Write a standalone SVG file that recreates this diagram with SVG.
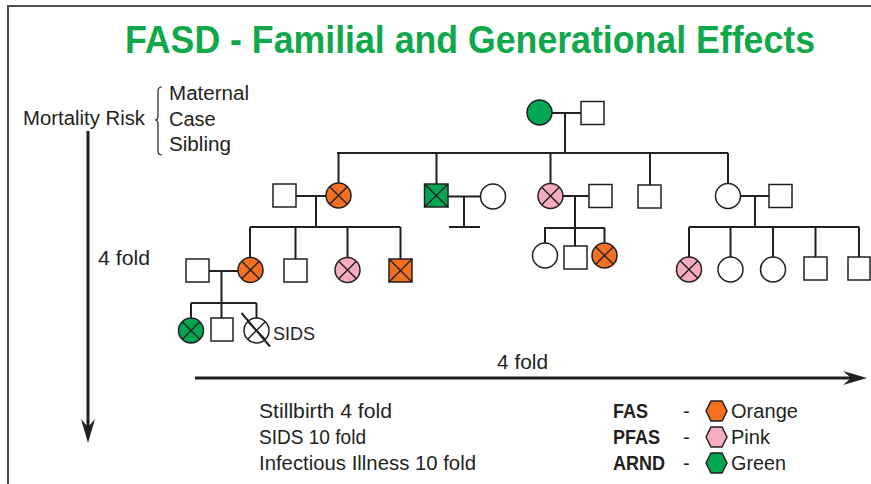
<svg xmlns="http://www.w3.org/2000/svg" width="871" height="484" viewBox="0 0 871 484">
<style>
.ln{stroke:#231f20;stroke-width:2;fill:none}
.s{stroke:#231f20;stroke-width:1.5}
.w{fill:#fff}.o{fill:#f37021}.p{fill:#f5adbf}.g{fill:#00a651}
.x{stroke:#231f20;stroke-width:1.4;fill:none}
.t{font-family:"Liberation Sans",Arial,sans-serif;font-size:20px;fill:#231f20}
.b{font-weight:bold}
</style>
<rect width="871" height="484" fill="#fff"/>
<path d="M8,484 V6 H871" fill="none" stroke="#4d4d4d" stroke-width="2"/>
<text class="t b" x="125" y="53" style="font-size:38px;fill:#0fa84b" textLength="690" lengthAdjust="spacingAndGlyphs">FASD - Familial and Generational Effects</text>

<g id="axis-labels">
<text class="t" x="23" y="125" textLength="122" lengthAdjust="spacingAndGlyphs">Mortality Risk</text>
<path d="M162,87 Q158,87 158,91 V116 Q158,120 155,120 Q158,120 158,124 V151 Q158,155 162,155" fill="none" stroke="#231f20" stroke-width="1.2"/>
<text class="t" x="169" y="100" textLength="80" lengthAdjust="spacingAndGlyphs">Maternal</text>
<text class="t" x="169" y="125.5">Case</text>
<text class="t" x="169" y="151" textLength="62" lengthAdjust="spacingAndGlyphs">Sibling</text>
<text class="t" x="98" y="265" textLength="52" lengthAdjust="spacingAndGlyphs">4 fold</text>
<text class="t" x="497" y="369" textLength="51" lengthAdjust="spacingAndGlyphs">4 fold</text>
</g>

<g id="arrows" fill="#231f20">
<line x1="88" y1="131" x2="88" y2="430" stroke="#231f20" stroke-width="3"/>
<polygon points="81,419 88,443 95,419 88,427"/>
<line x1="195" y1="378" x2="852" y2="378" stroke="#231f20" stroke-width="3"/>
<polygon points="843,371 867,378 843,385 851,378"/>
</g>

<g id="connectors" class="ln">
<path d="M552,113 H581 M565,113 V153 M337,153 H728"/>
<path d="M338.5,153 V183 M436.5,153 V184 M550.5,153 V183.5 M650,153 V185 M728,153 V183.5"/>
<path d="M296,196 H326 M316,196 V227 M250,227 H400.5 M250,227 V257.5 M295.5,227 V259 M347.5,227 V257.5 M400.5,227 V259"/>
<path d="M448,196.5 H480.5 M464,196.5 V227 M449,227 H480"/>
<path d="M563,196 H589 M575,196 V246 M544,228 H605 M545,228 V243 M604.5,228 V243"/>
<path d="M741,196 H769 M755,196 V227 M689,227 H859 M689,227 V257 M730.5,227 V257 M773,227 V257 M815.5,227 V257 M859,227 V257"/>
<path d="M209,271 H238 M221.5,271 V303 M191,303 H256.5 M191,303 V318 M221.5,303 V318 M256.5,303 V318"/>
</g>

<g id="gen1-mother"><circle class="s g" cx="539.5" cy="112.5" r="12.5"/></g>
<g id="gen1-father"><rect class="s w" x="581" y="101.5" width="23" height="23"/></g>

<g id="gen2-spouse-a"><rect class="s w" x="273" y="184" width="23" height="23"/></g>
<g id="gen2-daughter-fas"><circle class="s o" cx="338.5" cy="195.5" r="12.5"/><path class="x" d="M329.7,186.7 L347.3,204.3 M347.3,186.7 L329.7,204.3"/></g>
<g id="gen2-son-arnd"><rect class="s g" x="424.5" y="184" width="23.5" height="23"/><path class="x" d="M424.5,184 L448,207 M448,184 L424.5,207"/></g>
<g id="gen2-spouse-d"><circle class="s w" cx="493" cy="196.5" r="12.5"/></g>
<g id="gen2-daughter-pfas"><circle class="s p" cx="550.5" cy="196" r="12.5"/><path class="x" d="M541.7,187.2 L559.3,204.8 M559.3,187.2 L541.7,204.8"/></g>
<g id="gen2-spouse-f"><rect class="s w" x="589" y="184.5" width="23" height="23"/></g>
<g id="gen2-son"><rect class="s w" x="638" y="185" width="23" height="23"/></g>
<g id="gen2-daughter"><circle class="s w" cx="728" cy="196" r="12.5"/></g>
<g id="gen2-spouse-i"><rect class="s w" x="769" y="184.5" width="23" height="23"/></g>

<g id="gen3-spouse-j"><rect class="s w" x="186" y="259" width="23" height="23"/></g>
<g id="gen3-daughter-fas"><circle class="s o" cx="250.5" cy="270" r="12.5"/><path class="x" d="M241.7,261.2 L259.3,278.8 M259.3,261.2 L241.7,278.8"/></g>
<g id="gen3-son-l"><rect class="s w" x="284" y="259" width="23" height="23"/></g>
<g id="gen3-daughter-pfas"><circle class="s p" cx="347.5" cy="270" r="12.5"/><path class="x" d="M338.7,261.2 L356.3,278.8 M356.3,261.2 L338.7,278.8"/></g>
<g id="gen3-son-fas"><rect class="s o" x="389" y="259" width="23" height="23"/><path class="x" d="M389,259 L412,282 M412,259 L389,282"/></g>

<g id="gen3-e-daughter"><circle class="s w" cx="545" cy="255.5" r="12.5"/></g>
<g id="gen3-e-son"><rect class="s w" x="564" y="246" width="23" height="23"/></g>
<g id="gen3-e-daughter-fas"><circle class="s o" cx="604.5" cy="255.5" r="12.5"/><path class="x" d="M595.7,246.7 L613.3,264.3 M613.3,246.7 L595.7,264.3"/></g>

<g id="gen3-h-daughter-pfas"><circle class="s p" cx="689" cy="269.5" r="12.5"/><path class="x" d="M680.2,260.7 L697.8,278.3 M697.8,260.7 L680.2,278.3"/></g>
<g id="gen3-h-daughter-2"><circle class="s w" cx="730.5" cy="269.5" r="12.5"/></g>
<g id="gen3-h-daughter-3"><circle class="s w" cx="773" cy="269.5" r="12.5"/></g>
<g id="gen3-h-son-1"><rect class="s w" x="804" y="257" width="23" height="23"/></g>
<g id="gen3-h-son-2"><rect class="s w" x="848" y="257" width="22" height="23"/></g>

<g id="gen4-daughter-arnd"><circle class="s g" cx="191" cy="330.5" r="12.5"/><path class="x" d="M182.2,321.7 L199.8,339.3 M199.8,321.7 L182.2,339.3"/></g>
<g id="gen4-son"><rect class="s w" x="211" y="318" width="22" height="23"/></g>
<g id="gen4-sids"><circle class="s w" cx="256.5" cy="330.5" r="12.5"/><path class="x" d="M247.7,321.7 L265.3,339.3 M265.3,321.7 L247.7,339.3"/><line x1="241.5" y1="313" x2="270" y2="346.5" stroke="#231f20" stroke-width="2"/><text class="t" x="273" y="340" style="font-size:18px">SIDS</text></g>

<g id="stats">
<text class="t" x="259" y="418" textLength="133" lengthAdjust="spacingAndGlyphs">Stillbirth 4 fold</text>
<text class="t" x="259" y="444" textLength="107" lengthAdjust="spacingAndGlyphs">SIDS 10 fold</text>
<text class="t" x="259" y="470" textLength="217" lengthAdjust="spacingAndGlyphs">Infectious Illness 10 fold</text>
</g>

<g id="legend">
<text class="t b" x="613" y="418" textLength="35" lengthAdjust="spacingAndGlyphs">FAS</text>
<text class="t b" x="613" y="444" textLength="47" lengthAdjust="spacingAndGlyphs">PFAS</text>
<text class="t b" x="613" y="470" textLength="52" lengthAdjust="spacingAndGlyphs">ARND</text>
<text class="t" x="683" y="418">-</text>
<text class="t" x="683" y="444">-</text>
<text class="t" x="683" y="470">-</text>
<polygon class="s o" points="706,411 711,401 722,401 727,411 722,421 711,421"/>
<polygon class="s p" points="706,437 711,427 722,427 727,437 722,447 711,447"/>
<polygon class="s g" points="706,463 711,453 722,453 727,463 722,473 711,473"/>
<text class="t" x="731" y="418" textLength="67" lengthAdjust="spacingAndGlyphs">Orange</text>
<text class="t" x="731" y="444" textLength="39" lengthAdjust="spacingAndGlyphs">Pink</text>
<text class="t" x="731" y="470" textLength="55" lengthAdjust="spacingAndGlyphs">Green</text>
</g>
</svg>
